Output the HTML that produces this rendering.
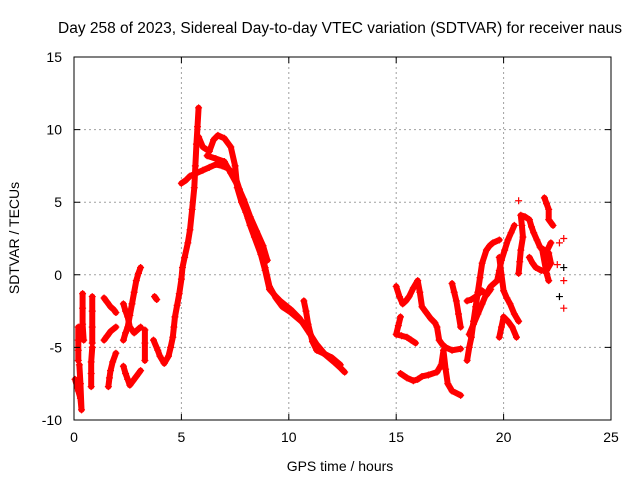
<!DOCTYPE html>
<html><head><meta charset="utf-8"><style>
body{margin:0;background:#fff;}
svg{display:block;font-family:"Liberation Sans",sans-serif;}
</style></head><body>
<svg id="chart" width="640" height="480">
<rect width="640" height="480" fill="#fff"/>
<text x="340" y="33" font-size="15.5" text-anchor="middle">Day 258 of 2023, Sidereal Day-to-day VTEC variation (SDTVAR) for receiver naus</text>
<text x="340" y="471" font-size="14" text-anchor="middle">GPS time / hours</text>
<text transform="translate(19,238) rotate(-90)" font-size="14" text-anchor="middle">SDTVAR / TECUs</text>
<g id="grid"></g><g id="marks"></g><g id="axes"></g>
</svg>
<script>
const xTicks=[0,5,10,15,20,25];
const yTicks=[-10,-5,0,5,10,15];
// arcs: each array is [time, value, time, value, ...]
const arc1=[0.05,-7.2,0.2,-8.0,0.3,-8.5,0.35,-9.3,0.3,-7.5,0.25,-6.2];
const arc2=[0.2,-3.6,0.2,-4.5,0.2,-5.2,0.2,-5.9];
const arc3=[0.4,-1.3,0.4,-2.3,0.4,-3.4,0.45,-4.5];
const arc4=[0.85,-1.5,0.85,-2.5,0.85,-3.6,0.85,-4.7];
const arc5=[0.85,-5.0,0.8,-6.0,0.8,-6.8,0.8,-7.7];
const arc6=[1.4,-1.6,1.55,-1.9,1.7,-2.2,1.85,-2.4,1.95,-2.6];
const arc7=[1.4,-4.5,1.55,-4.2,1.7,-3.9,1.95,-3.6];
const arc8=[1.6,-7.7,1.65,-7.1,1.7,-6.6,1.8,-6.0,1.95,-5.4];
const arc9=[2.3,-2.0,2.4,-2.5,2.5,-2.9,2.6,-3.6,2.8,-4.0,3.1,-3.6];
const arc10=[2.3,-4.5,2.4,-4.0,2.5,-3.6,2.6,-2.8,2.7,-2.0,2.8,-1.2,2.9,-0.4,3.0,0.1,3.1,0.5];
const arc11=[2.3,-6.3,2.4,-6.8,2.5,-7.2,2.6,-7.6,2.75,-7.3,2.9,-7.0,3.1,-6.6];
const arc12=[3.3,-3.8,3.3,-4.7,3.3,-5.9];
const arc12b=[3.75,-1.5,3.85,-1.7];
const arc13=[3.7,-4.5,3.9,-5.2,4.0,-5.6,4.2,-6.1,4.4,-5.6,4.5,-5.0,4.6,-4.3,4.65,-3.6,4.7,-2.9,4.8,-2.1,4.9,-1.3,5.0,-0.3,5.05,0.5,5.15,1.2,5.3,2.2,5.4,3.1,5.5,4.5,5.6,6.0,5.65,7.5,5.7,9.0,5.75,10.2,5.8,11.5];
const arc14=[5.0,6.3,5.2,6.5,5.4,6.8,5.7,7.0,6.0,7.2,6.3,7.4,6.6,7.6,6.9,7.5,7.2,7.3,7.5,6.8,7.7,5.9,7.9,4.8,8.1,3.9,8.4,2.8,8.7,1.6,8.9,0.5,9.1,-0.8,9.4,-1.6,9.7,-2.2,10.1,-2.6,10.5,-3.1,10.9,-3.6];
const arc15=[5.8,9.5,6.0,8.8,6.3,8.5,6.5,9.3,6.7,9.6,7.0,9.4,7.3,8.8,7.5,7.5,7.6,6.0,7.8,5.0,8.0,4.3,8.2,3.4,8.4,2.6,8.7,1.4,8.9,0.3,9.1,-1.0,9.4,-1.5,9.6,-1.8,10.1,-2.4,10.5,-3.0,11.0,-4.1,11.3,-4.8,11.7,-5.5,12.1,-6.0,12.4,-6.4,12.6,-6.7];
const arc16=[6.2,8.2,6.6,8.0,7.0,7.8,7.3,7.0,7.6,6.2,7.9,5.2,8.2,4.0,8.5,3.0,8.8,2.0,9.0,1.0];
const arc17=[10.7,-1.8,10.8,-2.5,10.9,-3.4,11.1,-4.6,11.3,-5.2,11.6,-5.4,12.0,-5.7,12.4,-6.2];
const arc18=[15.0,-0.8,15.15,-1.5,15.3,-2.0,15.45,-1.8,15.6,-1.5,15.8,-0.9,16.0,-0.4,16.1,-1.2,16.2,-2.2,16.4,-2.6,16.6,-3.0,16.8,-3.3,16.9,-3.6,17.0,-4.5,17.15,-4.8,17.3,-5.0,17.6,-5.2,18.0,-5.1];
const arc19=[15.2,-2.9,15.1,-3.5,15.0,-4.1,15.25,-4.2,15.5,-4.3,15.7,-4.5,15.9,-4.7];
const arc20=[15.2,-6.8,15.5,-7.1,15.8,-7.3,16.0,-7.2,16.2,-7.0,16.5,-6.9,16.9,-6.7,17.1,-6.2,17.2,-5.2,17.3,-6.5,17.4,-7.5,17.6,-8.0,18.0,-8.3];
const arc21=[17.6,-0.6,17.7,-1.2,17.8,-1.8,17.9,-2.7,18.0,-3.6];
const arc22=[18.3,-5.9,18.4,-5.0,18.5,-4.3,18.6,-3.2,18.7,-2.2,18.8,-1.2,18.9,-0.2,19.0,0.8,19.2,1.7,19.35,2.0,19.5,2.2,19.8,2.4];
const arc23=[18.3,-1.8,18.5,-1.7,18.7,-1.5,19.0,-1.1,19.2,-1.4,19.4,-1.0];
const arc24=[18.4,-4.1,18.6,-3.4,18.8,-2.7,19.0,-2.0,19.2,-1.3,19.4,-0.8,19.7,-0.4,19.8,0.3,19.9,1.0,20.05,1.7,20.2,2.4,20.35,2.9,20.5,3.4];
const arc25=[19.8,1.2,19.9,0.0,20.0,-1.1,20.15,-1.6,20.3,-2.0,20.5,-2.7,20.7,-3.2];
const arc26=[19.8,-4.3,19.9,-3.6,20.0,-2.9,20.2,-3.2,20.4,-3.6,20.6,-4.3];
const arc27=[20.7,0.1,20.75,0.9,20.8,1.7,20.9,2.6,20.85,3.4,20.8,4.1,21.0,4.0,21.2,3.8,21.3,3.3,21.4,2.9,21.55,2.4,21.7,1.9,22.0,1.6,22.2,2.2];
const arc28=[21.2,1.2,21.35,0.8,21.5,0.5,21.75,0.3,22.0,0.3,22.2,0.8,22.1,1.5,21.8,1.7,22.0,0.1,22.1,-0.4];
const arc29=[21.9,5.3,22.0,4.9,22.1,4.5,22.1,3.8,22.3,3.4];
const loosePts=[20.7,5.1,22.6,2.2,22.8,2.5,22.5,0.7,22.8,-0.4,22.8,-2.3];
const darkPts=[22.8,0.5,22.6,-1.5];
const arcs=[arc1,arc2,arc3,arc4,arc5,arc6,arc7,arc8,arc9,arc10,arc11,arc12,arc12b,arc13,arc14,arc15,arc16,arc17,arc18,arc19,arc20,arc21,arc22,arc23,arc24,arc25,arc26,arc27,arc28,arc29];

const L=74,R=611,T=57,B=420;
const sx=t=>L+(t-0)/(25-0)*(R-L);
const sy=v=>B-(v+10)/(15+10)*(B-T);
const NS="http://www.w3.org/2000/svg";
function mk(tag,attrs,parent){const e=document.createElementNS(NS,tag);for(const k in attrs)e.setAttribute(k,attrs[k]);parent.appendChild(e);return e;}
const grid=document.getElementById('grid'),marks=document.getElementById('marks'),axes=document.getElementById('axes');
xTicks.forEach(t=>{
  if(t>0&&t<25){const g=mk('line',{x1:sx(t),x2:sx(t),y1:T,y2:B,stroke:'#a0a0a0','stroke-dasharray':'2,3'},grid);
  
  }
  const tk=mk('path',{d:`M${sx(t)},${B}v-6M${sx(t)},${T}v6`,stroke:'#000'},axes);
  
  
  const lb=mk('text',{x:sx(t),y:B+22,'font-size':14,'text-anchor':'middle'},axes);lb.textContent=t;
  
  
});
yTicks.forEach(v=>{
  if(v>-10&&v<15){const g=mk('line',{x1:L,x2:R,y1:sy(v),y2:sy(v),stroke:'#a0a0a0','stroke-dasharray':'2,3'},grid);
  
  }
  const tk=mk('path',{d:`M${L},${sy(v)}h6M${R},${sy(v)}h-6`,stroke:'#000'},axes);
  
  
  const lb=mk('text',{x:L-12,y:sy(v)+5,'font-size':14,'text-anchor':'end'},axes);lb.textContent=v;
  
  
});
const border=mk('rect',{x:L,y:T,width:R-L,height:B-T,fill:'none',stroke:'#000'},axes);


function plus(t,v,color,parent){
  const x=sx(t),y=sy(v);
  const p=mk('path',{d:`M${x-3.5},${y}h7M${x},${y-3.5}v7`,stroke:color,'stroke-width':1.2},parent);
  
  
}
arcs.forEach((a,i)=>{
  const g=mk('g',{},marks);
  
  
  const pts=[];for(let j=0;j<a.length;j+=2)pts.push(sx(a[j])+','+sy(a[j+1]));
  const pl=mk('polyline',{points:pts.join(' '),fill:'none',stroke:'#f00','stroke-width':6,'stroke-linejoin':'round','stroke-linecap':'round'},g);
  
  
  for(let j=0;j<a.length;j+=2)plus(a[j],a[j+1],'#f00',g);
});
for(let j=0;j<loosePts.length;j+=2)plus(loosePts[j],loosePts[j+1],'#f00',marks);
for(let j=0;j<darkPts.length;j+=2)plus(darkPts[j],darkPts[j+1],'#000',marks);
</script>
</body></html>
